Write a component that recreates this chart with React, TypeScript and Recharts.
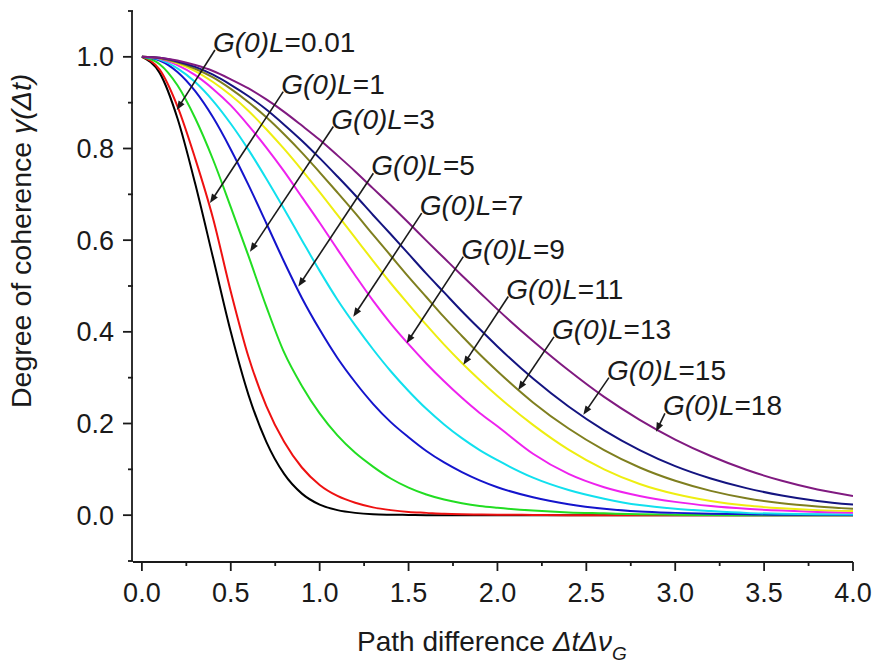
import React from 'react';
import { LineChart, Line, XAxis, YAxis, ReferenceLine } from 'recharts';

const FONT = 'Liberation Sans, Arial, Helvetica, sans-serif';
const INK = '#1a1a1a';

const X = [0, 0.1, 0.2, 0.3, 0.4, 0.5, 0.6, 0.7, 0.8, 0.9, 1.0, 1.1, 1.2, 1.3, 1.4, 1.5, 1.6, 1.7, 1.8, 1.9, 2.0, 2.2, 2.4, 2.6, 2.8, 3.0, 3.2, 3.4, 3.6, 3.8, 4.0];

const G001 = [1.000, 0.965, 0.866, 0.723, 0.562, 0.400, 0.262, 0.160, 0.090, 0.047, 0.023, 0.011, 0.005, 0.002, 0.001, 0.0005, 0, 0, 0, 0, 0, 0, 0, 0, 0, 0, 0, 0, 0, 0, 0];
const G1 = [1.000, 0.972, 0.892, 0.778, 0.648, 0.488, 0.345, 0.238, 0.160, 0.104, 0.066, 0.042, 0.027, 0.017, 0.011, 0.007, 0.005, 0.003, 0.002, 0.0015, 0.001, 0.0005, 0, 0, 0, 0, 0, 0, 0, 0, 0];
const G3 = [1.000, 0.984, 0.938, 0.866, 0.776, 0.672, 0.565, 0.455, 0.355, 0.282, 0.222, 0.174, 0.136, 0.106, 0.080, 0.060, 0.045, 0.034, 0.026, 0.020, 0.016, 0.010, 0.006, 0.004, 0.002, 0.001, 0.0005, 0, 0, 0, 0];
const G5 = [1.000, 0.992, 0.967, 0.925, 0.868, 0.798, 0.720, 0.637, 0.553, 0.474, 0.405, 0.343, 0.290, 0.243, 0.203, 0.170, 0.140, 0.115, 0.094, 0.076, 0.061, 0.039, 0.024, 0.014, 0.008, 0.005, 0.003, 0.002, 0.001, 0.001, 0.0005];
const G7 = [1.000, 0.994, 0.975, 0.945, 0.904, 0.854, 0.797, 0.734, 0.668, 0.600, 0.533, 0.470, 0.414, 0.362, 0.314, 0.271, 0.232, 0.198, 0.168, 0.142, 0.120, 0.082, 0.055, 0.036, 0.022, 0.014, 0.009, 0.005, 0.003, 0.002, 0.0015];
const G9 = [1.000, 0.996, 0.982, 0.960, 0.930, 0.894, 0.850, 0.802, 0.750, 0.694, 0.638, 0.580, 0.523, 0.468, 0.418, 0.373, 0.331, 0.292, 0.256, 0.223, 0.194, 0.134, 0.090, 0.061, 0.042, 0.029, 0.020, 0.014, 0.010, 0.007, 0.005];
const G11 = [1.000, 0.997, 0.986, 0.969, 0.945, 0.916, 0.882, 0.842, 0.799, 0.753, 0.705, 0.655, 0.605, 0.555, 0.506, 0.460, 0.415, 0.372, 0.332, 0.295, 0.260, 0.197, 0.143, 0.100, 0.068, 0.046, 0.031, 0.021, 0.015, 0.011, 0.009];
const G13 = [1.000, 0.997, 0.988, 0.974, 0.955, 0.930, 0.901, 0.868, 0.831, 0.791, 0.748, 0.704, 0.659, 0.612, 0.566, 0.520, 0.476, 0.432, 0.391, 0.351, 0.314, 0.246, 0.189, 0.142, 0.104, 0.075, 0.053, 0.037, 0.026, 0.019, 0.014];
const G15 = [1.000, 0.998, 0.990, 0.978, 0.961, 0.939, 0.914, 0.885, 0.852, 0.817, 0.779, 0.739, 0.698, 0.655, 0.613, 0.570, 0.527, 0.486, 0.445, 0.406, 0.368, 0.298, 0.237, 0.185, 0.142, 0.107, 0.080, 0.059, 0.043, 0.031, 0.023];
const G18 = [1.000, 0.998, 0.992, 0.982, 0.969, 0.951, 0.931, 0.907, 0.880, 0.850, 0.819, 0.785, 0.750, 0.713, 0.676, 0.638, 0.599, 0.561, 0.523, 0.486, 0.449, 0.380, 0.316, 0.258, 0.208, 0.165, 0.129, 0.099, 0.075, 0.056, 0.042];

const SERIES_VALUES = [G001, G1, G3, G5, G7, G9, G11, G13, G15, G18];
const SERIES_LABELS = ['0.01', '1', '3', '5', '7', '9', '11', '13', '15', '18'];
const SERIES_COLORS = ['#000000', '#ee1111', '#22dd22', '#1414cc', '#11e0ee', '#ee22ee', '#eeee11', '#7f7f1f', '#141480', '#801a80'];

// annotation: label anchor (data units) and arrow tip on curve (data units)
const ANN_START_X = [0.411, 0.795, 1.077, 1.302, 1.574, 1.808, 2.061, 2.318, 2.627, 2.942];
const ANN_START_Y = [1.015, 0.924, 0.848, 0.746, 0.659, 0.564, 0.477, 0.389, 0.300, 0.222];
const ANN_TIP_X = [0.196, 0.383, 0.608, 0.880, 1.189, 1.489, 1.808, 2.117, 2.483, 2.892];
const ANN_TIP_Y = [0.884, 0.681, 0.575, 0.499, 0.433, 0.375, 0.328, 0.273, 0.219, 0.182];

const X_TICKS = [0, 0.5, 1.0, 1.5, 2.0, 2.5, 3.0, 3.5, 4.0];
const X_MINOR = [0.25, 0.75, 1.25, 1.75, 2.25, 2.75, 3.25, 3.75];
const Y_TICKS = [0, 0.2, 0.4, 0.6, 0.8, 1.0];
const Y_MINOR = [-0.1, 0.1, 0.3, 0.5, 0.7, 0.9, 1.1];

const rows = X.map((x, i) => {
  const r: Record<string, number> = { x };
  SERIES_VALUES.forEach((s, k) => { r['s' + k] = s[i]; });
  return r;
});

const axisStroke = { stroke: INK, strokeWidth: 1.8 };

const makeArrowShape = (label: string) => (p: any) => {
  const { x1, y1, x2, y2 } = p;
  const dx = x2 - x1, dy = y2 - y1;
  const len = Math.sqrt(dx * dx + dy * dy) || 1;
  const ux = dx / len, uy = dy / len;
  const nx = -uy, ny = ux;
  const L = 9, W = 3.5;
  const bx = x2 - ux * L, by = y2 - uy * L;
  return (
    <g>
      <line x1={x1} y1={y1} x2={x2 - ux * L * 0.6} y2={y2 - uy * L * 0.6} stroke={INK} strokeWidth={1.6} />
      <polygon points={`${x2},${y2} ${bx + nx * W},${by + ny * W} ${bx - nx * W},${by - ny * W}`} fill={INK} />
      <text x={x1 - 2} y={y1 + 2} fontSize={28} fontFamily={FONT} fill={INK}>
        <tspan fontStyle="italic">G(0)L</tspan>
        <tspan>={label}</tspan>
      </text>
    </g>
  );
};

const XLabel = (props: any) => {
  const vb = props.viewBox || { x: 133, y: 561, width: 720 };
  return (
    <text x={357} y={vb.y + 89} fontSize={28} fontFamily={FONT} fill={INK} textAnchor="start">
      <tspan>Path difference </tspan>
      <tspan fontStyle="italic">ΔtΔν</tspan>
      <tspan fontStyle="italic" fontSize={19} dy={9}>G</tspan>
    </text>
  );
};

const YLabel = () => (
  <text x={31} y={408} fontSize={28.5} fontFamily={FONT} fill={INK} textAnchor="start" transform="rotate(-90 31 408)">
    <tspan>Degree of coherence </tspan>
    <tspan fontStyle="italic">γ(Δt)</tspan>
  </text>
);

const blank = () => '';

export default function App() {
  return (
    <div style={{ position: 'absolute', left: 0, top: 0, width: 875, height: 668, background: '#fff' }}>
      <LineChart width={875} height={668} data={rows} margin={{ top: 11, right: 22, bottom: 46, left: 0 }}>
        <XAxis xAxisId="b" dataKey="x" type="number" domain={[-0.05, 4]} allowDataOverflow ticks={X_TICKS}
          tickFormatter={(v: number) => v.toFixed(1)} tickSize={9} tickMargin={12} height={60}
          axisLine={axisStroke} tickLine={axisStroke} interval={0}
          tick={{ fontSize: 27, fill: INK, fontFamily: FONT }} label={{ content: XLabel }} />
        <YAxis yAxisId="b" type="number" domain={[-0.1, 1.1]} allowDataOverflow ticks={Y_TICKS}
          tickFormatter={(v: number) => v.toFixed(1)} tickSize={9} tickMargin={9} width={132}
          axisLine={axisStroke} tickLine={axisStroke} interval={0}
          tick={{ fontSize: 27, fill: INK, fontFamily: FONT }} label={{ content: YLabel }} />
        <XAxis xAxisId="a" dataKey="x" type="number" domain={[-0.05, 4]} allowDataOverflow ticks={X_MINOR}
          tickFormatter={blank} tick={{ fontSize: 1 }} tickSize={5} axisLine={false} tickLine={axisStroke} height={1} interval={0} />
        <YAxis yAxisId="a" type="number" domain={[-0.1, 1.1]} allowDataOverflow ticks={Y_MINOR}
          tickFormatter={blank} tick={{ fontSize: 1 }} tickSize={5} axisLine={false} tickLine={axisStroke} width={1} interval={0} />
        {SERIES_VALUES.map((_, k) => (
          <Line key={k} xAxisId="b" yAxisId="b" type="monotone" dataKey={'s' + k} stroke={SERIES_COLORS[k]}
            strokeWidth={2} dot={false} isAnimationActive={false} />
        ))}
        {SERIES_LABELS.map((lab, k) => (
          <ReferenceLine key={'a' + k} xAxisId="b" yAxisId="b" ifOverflow="visible"
            segment={[{ x: ANN_START_X[k], y: ANN_START_Y[k] }, { x: ANN_TIP_X[k], y: ANN_TIP_Y[k] }]}
            shape={makeArrowShape(lab)} />
        ))}
      </LineChart>
    </div>
  );
}
